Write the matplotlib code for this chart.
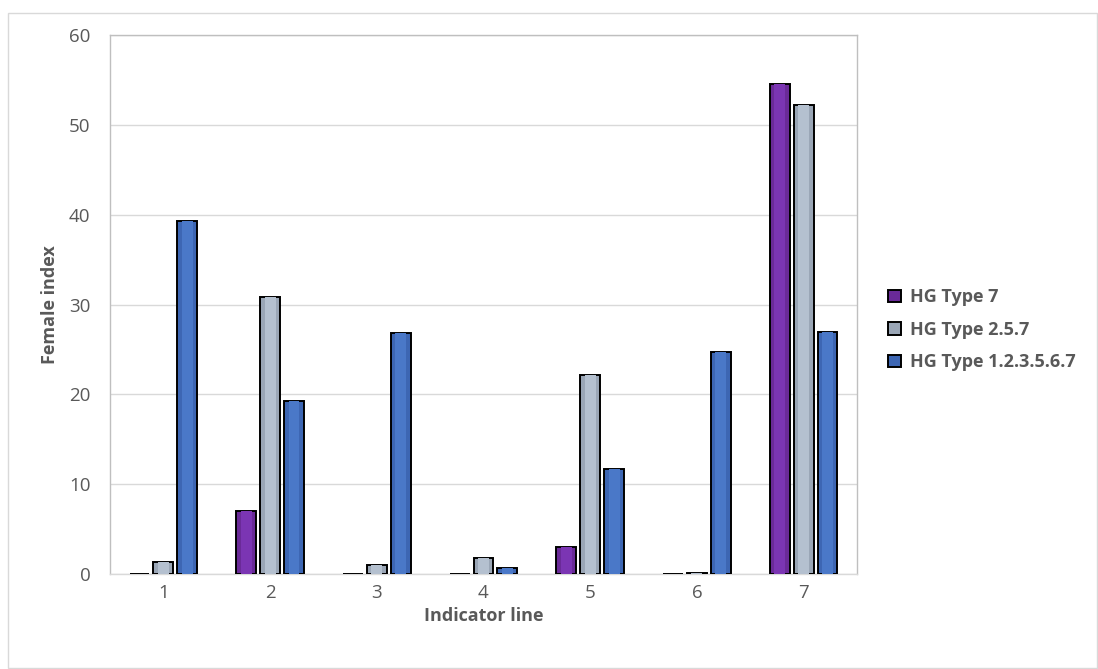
import matplotlib.pyplot as plt
import numpy as np
from matplotlib.patches import Rectangle

plt.rcParams['font.family'] = ['Open Sans', 'DejaVu Sans']

categories = ['1', '2', '3', '4', '5', '6', '7']
series_names = ['HG Type 7', 'HG Type 2.5.7', 'HG Type 1.2.3.5.6.7']
hg7 = [0.0, 7.0, 0.0, 0.0, 3.0, 0.0, 54.5]
hg257 = [1.3, 30.8, 1.0, 1.8, 22.2, 0.1, 52.2]
hg_all = [39.3, 19.3, 26.8, 0.7, 11.7, 24.7, 26.9]

colors = ['#6a2a98', '#9aa6b6', '#3d66b3']
highlights = ['#7b35b3', '#b4c0cf', '#4a78c8']
text_color = '#595959'

fig = plt.figure(figsize=(10.98, 6.69), dpi=100)
ax = fig.add_axes([110 / 1098, 1 - 574 / 669, (857 - 110) / 1098, (574 - 35) / 669])

# outer chart border
fig.patches.append(Rectangle((8 / 1098, 1 / 669), 1089 / 1098, 655 / 669,
                             transform=fig.transFigure, fill=False,
                             edgecolor='#d9d9d9', linewidth=1))

x = np.arange(len(categories))
width = 0.186
step = 0.224
for i, (vals, name, c, h) in enumerate(zip([hg7, hg257, hg_all], series_names, colors, highlights)):
    ax.bar(x + (i - 1) * step, vals, width, color=c, edgecolor='black',
           linewidth=1.4, label=name, zorder=3)
    # lighter middle strip for the bevelled look
    ax.bar(x + (i - 1) * step, vals, width * 0.55, color=h, linewidth=0, zorder=4)

ax.set_xlim(-0.5, len(categories) - 0.5)
ax.set_ylim(0, 60)
ax.set_yticks(range(0, 61, 10))
ax.set_xticks(x)
ax.set_xticklabels(categories)
ax.grid(axis='y', color='#d9d9d9', linewidth=1, zorder=0)
for s in ax.spines.values():
    s.set_color('#bfbfbf')
    s.set_linewidth(1)
ax.spines['bottom'].set_color('#d9d9d9')
ax.tick_params(length=0, labelsize=13.5, colors=text_color)
ax.tick_params(axis='x', pad=7)
ax.tick_params(axis='y', pad=14)

ax.set_ylabel('Female index', fontsize=13, fontweight='bold', color=text_color, labelpad=7)
ax.set_xlabel('Indicator line', fontsize=13, fontweight='bold', color=text_color, labelpad=4)

leg = ax.legend(loc='center left', bbox_to_anchor=(1.02, 0.453), frameon=False,
                handlelength=0.7, handleheight=0.7, handletextpad=0.5,
                labelspacing=0.8, prop={'size': 13, 'weight': 'bold'})
for t in leg.get_texts():
    t.set_color(text_color)

fig.savefig('out.png', dpi=100)
